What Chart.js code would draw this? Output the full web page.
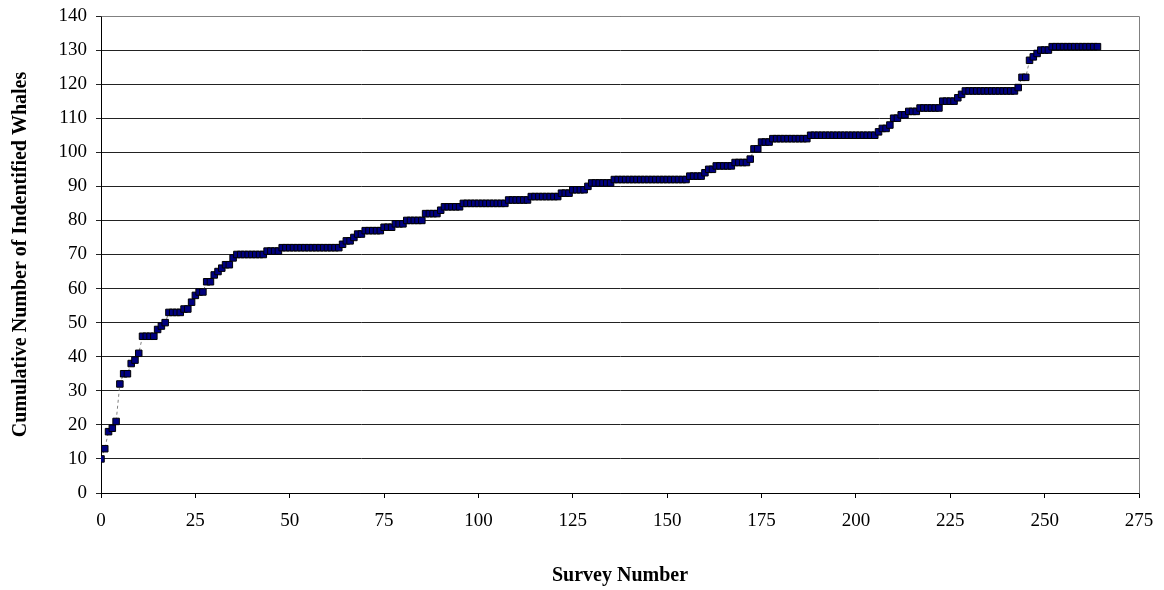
<!DOCTYPE html>
<html>
<head>
<meta charset="utf-8">
<title>Cumulative Number of Indentified Whales</title>
<script src="https://cdn.jsdelivr.net/npm/chart.js@4.4.1/dist/chart.umd.min.js"></script>
<style>
  html, body { margin: 0; padding: 0; background: #fff; }
  #wrap { width: 1164px; height: 590px; }
</style>
</head>
<body>
<div id="wrap"><canvas id="myChart" width="1164" height="590"></canvas></div>
<script>
// cumulative whales after each survey (survey 0, 1, 2, ...)
const whaleCounts = [
  10, 13, 18, 19, 21, 32, 35, 35, 38, 39,
  41, 46, 46, 46, 46, 48, 49, 50, 53, 53,
  53, 53, 54, 54, 56, 58, 59, 59, 62, 62,
  64, 65, 66, 67, 67, 69, 70, 70, 70, 70,
  70, 70, 70, 70, 71, 71, 71, 71, 72, 72,
  72, 72, 72, 72, 72, 72, 72, 72, 72, 72,
  72, 72, 72, 72, 73, 74, 74, 75, 76, 76,
  77, 77, 77, 77, 77, 78, 78, 78, 79, 79,
  79, 80, 80, 80, 80, 80, 82, 82, 82, 82,
  83, 84, 84, 84, 84, 84, 85, 85, 85, 85,
  85, 85, 85, 85, 85, 85, 85, 85, 86, 86,
  86, 86, 86, 86, 87, 87, 87, 87, 87, 87,
  87, 87, 88, 88, 88, 89, 89, 89, 89, 90,
  91, 91, 91, 91, 91, 91, 92, 92, 92, 92,
  92, 92, 92, 92, 92, 92, 92, 92, 92, 92,
  92, 92, 92, 92, 92, 92, 93, 93, 93, 93,
  94, 95, 95, 96, 96, 96, 96, 96, 97, 97,
  97, 97, 98, 101, 101, 103, 103, 103, 104, 104,
  104, 104, 104, 104, 104, 104, 104, 104, 105, 105,
  105, 105, 105, 105, 105, 105, 105, 105, 105, 105,
  105, 105, 105, 105, 105, 105, 106, 107, 107, 108,
  110, 110, 111, 111, 112, 112, 112, 113, 113, 113,
  113, 113, 113, 115, 115, 115, 115, 116, 117, 118,
  118, 118, 118, 118, 118, 118, 118, 118, 118, 118,
  118, 118, 118, 119, 122, 122, 127, 128, 129, 130,
  130, 130, 131, 131, 131, 131, 131, 131, 131, 131,
  131, 131, 131, 131, 131
];

const xTitle = 'Survey Number';
const yTitle = 'Cumulative Number of Indentified Whales';
const xRange = [0, 275, 25];
const yRange = [0, 140, 10];

const serif = '"Liberation Serif", "Times New Roman", serif';

// borde gris del área de trazado
const plotBorder = {
  id: 'plotBorder',
  afterDraw(chart) {
    const { ctx, chartArea } = chart;
    ctx.save();
    ctx.strokeStyle = '#808080';
    ctx.lineWidth = 1;
    ctx.beginPath();
    ctx.moveTo(Math.round(chartArea.left) + 0.5, Math.round(chartArea.top) + 0.5);
    ctx.lineTo(Math.round(chartArea.right) + 0.5, Math.round(chartArea.top) + 0.5);
    ctx.lineTo(Math.round(chartArea.right) + 0.5, Math.round(chartArea.bottom) + 0.5);
    ctx.stroke();
    ctx.restore();
  }
};

const points = whaleCounts.map((v, i) => ({ x: i, y: v }));

new Chart(document.getElementById('myChart'), {
  type: 'scatter',
  data: {
    datasets: [{
      data: points,
      showLine: true,
      borderColor: '#808080',
      borderWidth: 1,
      borderDash: [3, 3],
      tension: 0,
      pointStyle: 'rect',
      pointRadius: 4.6,
      pointBackgroundColor: '#000080',
      pointBorderColor: '#000000',
      pointBorderWidth: 1,
      pointHoverRadius: 4.6
    }]
  },
  options: {
    responsive: false,
    animation: false,
    layout: { padding: { top: 16, right: 25, left: 0, bottom: 0 } },
    plugins: {
      legend: { display: false },
      tooltip: { enabled: false }
    },
    scales: {
      x: {
        type: 'linear',
        min: xRange[0],
        max: xRange[1],
        afterFit: s => { s.height = 97; s.paddingLeft = 0; s.paddingRight = 0; },
        ticks: {
          stepSize: xRange[2],
          color: '#000',
          padding: 12,
          maxRotation: 0,
          font: { family: serif, size: 19 }
        },
        grid: { drawOnChartArea: false, drawTicks: true, tickLength: 5, color: '#000' },
        border: { color: '#000', width: 1 },
        title: {
          display: true,
          text: xTitle,
          color: '#000',
          padding: { top: 0, bottom: 2 },
          font: { family: serif, size: 20, weight: 'bold' }
        }
      },
      y: {
        min: yRange[0],
        max: yRange[1],
        afterFit: s => { s.width = 101; s.paddingTop = 0; s.paddingBottom = 0; },
        ticks: {
          stepSize: yRange[2],
          color: '#000',
          padding: 9,
          font: { family: serif, size: 19 }
        },
        grid: { color: '#222', lineWidth: 1, tickLength: 5 },
        border: { color: '#000', width: 1 },
        title: {
          display: true,
          text: yTitle,
          color: '#000',
          padding: { top: 9, bottom: 0 },
          font: { family: serif, size: 20, weight: 'bold' }
        }
      }
    }
  },
  plugins: [plotBorder]
});
</script>
</body>
</html>
